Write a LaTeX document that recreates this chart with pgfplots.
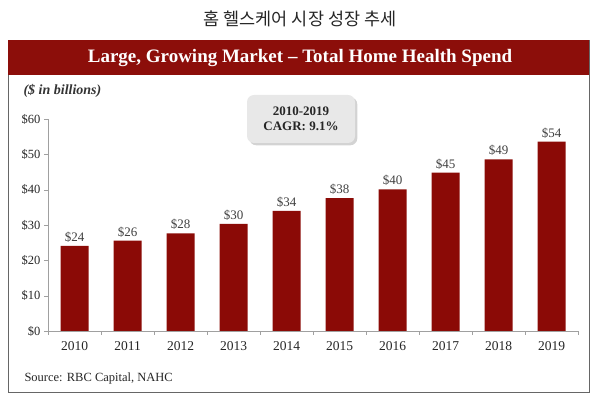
\documentclass[border=0pt]{standalone}
\usepackage{pgfplots}
\pgfplotsset{compat=1.18}
\usepackage{fontspec}
\setmainfont{Liberation Serif}
\newfontfamily\kr{Noto Sans CJK KR}
\usetikzlibrary{shadows}
\definecolor{hdr}{RGB}{140,14,10}
\definecolor{barred}{RGB}{139,10,6}
\definecolor{axgray}{RGB}{160,160,160}
\begin{document}
\begin{tikzpicture}[x=1pt,y=1pt]
\useasboundingbox (0,0) rectangle (600,396);
\node[font=\kr\fontsize{17.5}{20}\selectfont, text=black!85] at (300,377) {홈 헬스케어 시장 성장 추세};
\draw[black!60, line width=0.9pt] (8,4) rectangle (589,356);
\fill[hdr] (8,321) rectangle (589,356);
\node[font=\bfseries\fontsize{19}{22}\selectfont, text=white] at (300,338) {Large, Growing Market -- Total Home Health Spend};
\node[anchor=west, font=\bfseries\itshape\fontsize{14}{16}\selectfont, text=black!80] at (20,305) {(\$ in billions)};
\begin{axis}[at={(48pt,65pt)}, anchor=south west, scale only axis,
  width=530pt, height=212pt,
  ymin=0, ymax=60, xmin=-0.5, xmax=9.5,
  ybar, bar width=28pt,
  axis lines=left, axis line style={axgray,-},
  /pgf/number format/assume math mode=true,
  ytick={0,10,...,60},
  yticklabel={\$\pgfmathprintnumber{\tick}},
  xtick={0,...,9},
  xticklabels={2010,2011,2012,2013,2014,2015,2016,2017,2018,2019},
  minor xtick={-0.5,0.5,...,9.5},
  major x tick style={draw=none},
  minor x tick style={axgray},
  y tick style={axgray},
  tick align=outside,
  major tick length=4pt, minor tick length=4pt,
  yticklabel style={font=\fontsize{12.5}{14}\selectfont, text=black!85},
  xticklabel style={font=\fontsize{13.5}{15}\selectfont, text=black!85, yshift=-3pt},
  clip=false,
  nodes near coords={\$\pgfmathprintnumber[fixed,precision=0]{\pgfplotspointmeta}},
  every node near coord/.append style={font=\fontsize{13}{15}\selectfont, text=black!75, yshift=0pt},
]
\addplot[fill=barred, draw=none] coordinates {(0,24.1) (1,25.6) (2,27.6) (3,30.3) (4,34.0) (5,37.6) (6,40.1) (7,44.8) (8,48.6) (9,53.6)};
\end{axis}
\node[fill=gray!18, rounded corners=7pt, drop shadow={opacity=0.35}, minimum width=108pt, minimum height=48pt, align=center, font=\bfseries\fontsize{13}{14.5}\selectfont, text=black!85] at (301,277) {2010-2019\\CAGR: 9.1\%};
\node[anchor=west, font=\fontsize{12.5}{14}\selectfont, text=black!85] at (21,18) {Source: RBC Capital, NAHC};
\end{tikzpicture}
\end{document}
